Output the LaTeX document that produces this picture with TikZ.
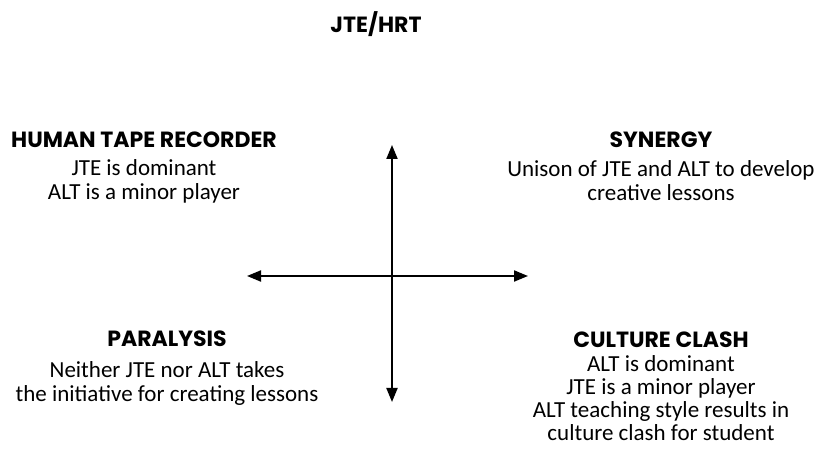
\documentclass[tikz,border=0pt]{standalone}
\usepackage{fontspec}
\setmainfont{Carlito}
\newfontfamily\headfont{Poppins}
\usetikzlibrary{arrows.meta}

\begin{document}
\begin{tikzpicture}[x=1pt,y=1pt,
  heading/.style={font=\headfont\bfseries\fontsize{22}{26}\selectfont,anchor=base,inner sep=0pt},
  detail/.style={font=\fontsize{23}{24}\selectfont,align=center,anchor=base,inner sep=0pt},
  axis/.style={line width=2pt,{Triangle[length=14pt,width=11pt]}-{Triangle[length=14pt,width=11pt]}}]
\useasboundingbox (0,0) rectangle (819,460);
% title
\node[heading] (title) at (376,427) {JTE/HRT};
% quadrants (detail nodes sit on the baseline of their last line)
\node[heading] (htrhead) at (144,312) {HUMAN TAPE RECORDER};
\node[detail] (htr) at (144,260) {JTE is dominant\\ALT is a minor player};
\node[heading] (synhead) at (661,312) {SYNERGY};
\node[detail] (syn) at (661,259) {Unison of JTE and ALT to develop\\creative lessons};
\node[heading] (parhead) at (167,113) {PARALYSIS};
\node[detail] (par) at (167,58) {Neither JTE nor ALT takes\\the initiative for creating lessons};
\node[heading] (clhead) at (661,112) {CULTURE CLASH};
\node[detail,font=\fontsize{23}{23}\selectfont] (cl) at (661,19) {ALT is dominant\\JTE is a minor player\\ALT teaching style results in\\culture clash for student};
% axes
\coordinate (top) at (392,315);
\coordinate (bottom) at (392,58);
\coordinate (left) at (247,184);
\coordinate (right) at (528,184);
\draw[axis] (top) -- (bottom);
\draw[axis] (left) -- (right);
\end{tikzpicture}
\end{document}
